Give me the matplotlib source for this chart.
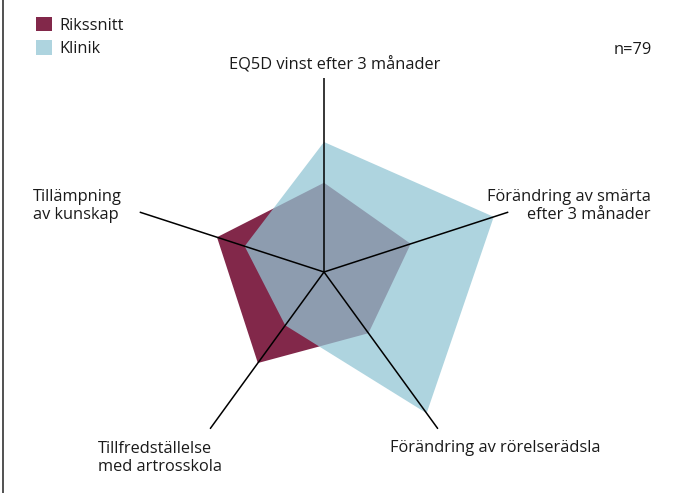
import numpy as np
import matplotlib
matplotlib.use("Agg")
import matplotlib.pyplot as plt
from matplotlib.patches import Patch
from matplotlib.lines import Line2D

categories = [
    "EQ5D vinst efter 3 månader",
    "Förändring av smärta\nefter 3 månader",
    "Förändring av rörelserädsla",
    "Tillfredställelse\nmed artrosskola",
    "Tillämpning\nav kunskap",
]
rikssnitt = [0.46, 0.47, 0.39, 0.58, 0.58]
klinik = [0.67, 0.92, 0.90, 0.34, 0.43]
series_names = ["Rikssnitt", "Klinik"]
n_label = "n=79"

W, H = 674, 493
plt.rcParams['font.family'] = ['Open Sans', 'DejaVu Sans']
fig = plt.figure(figsize=(W / 100, H / 100), dpi=100)

cx, cy, R = 324, 272, 194
ax = fig.add_axes([(cx - R) / W, (H - cy - R) / H, 2 * R / W, 2 * R / H], projection='polar')
ax.set_theta_offset(np.pi / 2)
ax.set_theta_direction(-1)
ax.set_ylim(0, 1)
ax.axis('off')

N = len(categories)
angles = np.linspace(0, 2 * np.pi, N, endpoint=False)
ang_c = np.concatenate([angles, angles[:1]])

red = "#82284a"
blue = (146 / 255, 197 / 255, 212 / 255)
ax.fill(ang_c, rikssnitt + rikssnitt[:1], color=red, alpha=1.0, lw=0, zorder=1)
ax.fill(ang_c, klinik + klinik[:1], color=blue, alpha=0.74, lw=0, zorder=2)
for a in angles:
    ax.plot([a, a], [0, 1], color="black", lw=1.1, zorder=3, solid_capstyle='butt')

tc = "#1a1a1a"
fs = 11.8
def px(x, y):
    return x / W, 1 - y / H

fig.text(*px(335, 65), categories[0], ha='center', va='center', fontsize=fs, color=tc)
fig.text(*px(651, 206), categories[1], ha='right', va='center', fontsize=fs, color=tc, linespacing=1.15, multialignment='right')
fig.text(*px(390, 448), categories[2], ha='left', va='center', fontsize=fs, color=tc)
fig.text(*px(98, 458), categories[3], ha='left', va='center', fontsize=fs, color=tc, linespacing=1.15)
fig.text(*px(33, 206), categories[4], ha='left', va='center', fontsize=fs, color=tc, linespacing=1.15)
fig.text(*px(652, 50), n_label, ha='right', va='center', fontsize=fs, color=tc)

handles = [Patch(facecolor=red, edgecolor='none'),
           Patch(facecolor=blue, alpha=0.74, edgecolor='none')]
fig.legend(handles, series_names, loc='upper left', bbox_to_anchor=(23 / W, 1 - 4 / H),
           frameon=False, fontsize=fs, handlelength=0.95, handleheight=0.95,
           handletextpad=0.45, labelspacing=0.4, borderpad=0.3, labelcolor=tc)

fig.add_artist(Line2D([2.5 / W, 2.5 / W], [0, 1], color="#333333", lw=1.2, transform=fig.transFigure))

fig.savefig("out.png", dpi=100)
